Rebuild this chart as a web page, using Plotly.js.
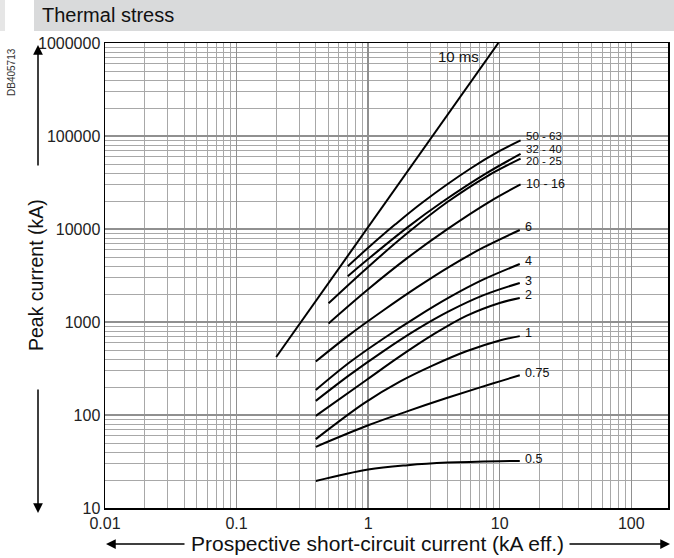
<!DOCTYPE html>
<html>
<head>
<meta charset="utf-8">
<script src="https://cdn.plot.ly/plotly-3.0.1.min.js"></script>
<style>
  html, body { margin: 0; padding: 0; background: #ffffff; }
  #chart { width: 674px; height: 558px; }
</style>
</head>
<body>
<div id="chart"></div>
<script>
// ---------- data ----------
const xTickVals = [0.01, 0.1, 1, 10, 100];
const xTickText = ['0.01', '0.1', '1', '10', '100'];
const yTickVals = [10, 100, 1000, 10000, 100000, 1000000];
const yTickText = ['10', '100', '1000', '10000', '100000', '1000000'];

const seriesNames = ['10 ms', '50 - 63', '32 - 40', '20 - 25', '10 - 16', '6', '4', '3', '2', '1', '0.75', '0.5'];

const x10ms  = [0.2, 9.76];
const y10ms  = [420, 1000000];
const x50_63 = [0.7, 1, 1.6, 2.6, 6, 10, 14.4];
const y50_63 = [3980, 6280, 11150, 19400, 44700, 69000, 89700];
const x32_40 = [0.7, 1, 2, 3.7, 8, 14.4];
const y32_40 = [3100, 4750, 10470, 19730, 40100, 64100];
const x20_25 = [0.5, 1, 2, 4, 8, 14.4];
const y20_25 = [1590, 3910, 9100, 19500, 36900, 57000];
const x10_16 = [0.5, 1, 2, 4, 8.4, 14.4];
const y10_16 = [966, 2250, 4920, 9980, 19740, 30100];
const x6     = [0.4, 0.724, 1.3, 2.33, 4.16, 7.46, 14.2];
const y6     = [376, 731, 1328, 2339, 3943, 6290, 9750];
const x4     = [0.4, 0.724, 1.3, 2.33, 4.16, 7.46, 14.2];
const y4     = [186, 369, 661, 1130, 1849, 2850, 4200];
const x3     = [0.4, 0.724, 1.3, 2.33, 4.16, 7.46, 14.2];
const y3     = [142, 270, 484, 828, 1316, 1933, 2630];
const x2     = [0.4, 0.97, 1.74, 3.11, 5.57, 9.98, 14.2];
const y2     = [98, 238, 427, 731, 1164, 1603, 1816];
const x1     = [0.4, 0.94, 1.74, 3.11, 5.57, 9.98, 14.2];
const y1     = [55, 135, 228, 341, 484, 633, 705];
const x075   = [0.4, 1, 2, 4, 7, 10, 14.2];
const y075   = [45.5, 77.5, 110, 153, 197, 230, 268];
const x05    = [0.4, 1, 2, 4, 10, 14.2];
const y05    = [19.5, 25.9, 28.9, 30.8, 31.9, 32];

// ---------- build ----------
const xsAll = [x10ms, x50_63, x32_40, x20_25, x10_16, x6, x4, x3, x2, x1, x075, x05];
const ysAll = [y10ms, y50_63, y32_40, y20_25, y10_16, y6, y4, y3, y2, y1, y075, y05];

const FONT = 'Liberation Sans, Arial, Helvetica, sans-serif';

const traces = seriesNames.map((n, i) => ({
  type: 'scatter', mode: 'lines', name: n,
  x: xsAll[i], y: ysAll[i],
  line: { color: '#000000', width: 2, shape: i === 0 ? 'linear' : 'spline', smoothing: 1 },
  hoverinfo: 'skip'
}));

// plot-area pixel geometry
const L = 105, R = 668, T = 43, B = 508;
const PX = p => (p - L) / (R - L);
const PY = p => (B - p) / (B - T);

// label offsets (pixels) and sizes
const labelYShift = [0, 4, 5, -2, 0, 3, 3, 2, 3, 3, 2, 2];
const labelSize   = [15, 11.5, 11.5, 11.5, 12.5, 12.5, 12.5, 12.5, 12.5, 12.5, 12.5, 12.5];

const annotations = [];
seriesNames.forEach((n, i) => {
  const xs = xsAll[i], ys = ysAll[i];
  const lx = Math.log10(xs[xs.length - 1]), ly = Math.log10(ys[ys.length - 1]);
  if (i === 0) {
    annotations.push({ xref: 'x', yref: 'y', x: lx, y: ly, text: n, showarrow: false,
      xanchor: 'right', yanchor: 'middle', xshift: -17, yshift: -13,
      font: { family: FONT, size: labelSize[i], color: '#111' } });
  } else {
    annotations.push({ xref: 'x', yref: 'y', x: lx, y: ly, text: n, showarrow: false,
      xanchor: 'left', yanchor: 'middle', xshift: 3, yshift: labelYShift[i],
      font: { family: FONT, size: labelSize[i], color: '#111' } });
  }
});

// axis titles and arrows
annotations.push(
  { xref: 'paper', yref: 'paper', x: PX(36), y: PY(275), text: 'Peak current (kA)', textangle: -90,
    showarrow: false, xanchor: 'center', yanchor: 'middle', font: { family: FONT, size: 19.5, color: '#111' } },
  { xref: 'paper', yref: 'paper', x: PX(38), y: PY(45), text: '', showarrow: true, ax: 0, ay: 122,
    arrowhead: 2, arrowsize: 1.3, arrowwidth: 1.5, arrowcolor: '#000', standoff: 0 },
  { xref: 'paper', yref: 'paper', x: PX(38), y: PY(513), text: '', showarrow: true, ax: 0, ay: -125,
    arrowhead: 2, arrowsize: 1.3, arrowwidth: 1.5, arrowcolor: '#000', standoff: 0 },
  { xref: 'paper', yref: 'paper', x: PX(377), y: PY(543), text: 'Prospective short-circuit current (kA eff.)',
    showarrow: false, xanchor: 'center', yanchor: 'middle', font: { family: FONT, size: 21, color: '#111' } },
  { xref: 'paper', yref: 'paper', x: PX(106), y: PY(544), text: '', showarrow: true, ax: 80, ay: 0,
    arrowhead: 2, arrowsize: 1.3, arrowwidth: 1.5, arrowcolor: '#000', standoff: 0 },
  { xref: 'paper', yref: 'paper', x: PX(670), y: PY(544), text: '', showarrow: true, ax: -102, ay: 0,
    arrowhead: 2, arrowsize: 1.3, arrowwidth: 1.5, arrowcolor: '#000', standoff: 0 },
  { xref: 'paper', yref: 'paper', x: PX(11), y: PY(72), text: 'DB405713', textangle: -90,
    showarrow: false, xanchor: 'center', yanchor: 'middle', font: { family: FONT, size: 10, color: '#333' } }
);

const shapes = [
  { type: 'rect', xref: 'paper', yref: 'paper', x0: PX(34), x1: PX(674), y0: PY(31), y1: PY(0),
    fillcolor: '#d9dadb', line: { width: 0 }, layer: 'below' },
  { type: 'rect', xref: 'paper', yref: 'paper', x0: PX(0), x1: PX(5), y0: PY(31), y1: PY(0),
    fillcolor: '#e6e6e6', line: { width: 0 }, layer: 'below' }
];

const axisCommon = {
  type: 'log', showgrid: true, gridcolor: '#909090', gridwidth: 1.4,
  showline: true, mirror: true, linecolor: '#000', linewidth: 1.5,
  ticks: '', zeroline: false, automargin: false,
  tickfont: { family: FONT, size: 16, color: '#222' },
  minor: { tickmode: 'linear', dtick: 'D1', showgrid: true, gridcolor: '#a8a8a8', gridwidth: 1, ticks: '' }
};

const layout = {
  width: 674, height: 558,
  margin: { l: L, r: 674 - R, t: T, b: 558 - B, pad: 0 },
  paper_bgcolor: '#ffffff', plot_bgcolor: '#ffffff',
  showlegend: false,
  title: { text: 'Thermal stress', xref: 'container', yref: 'container', x: 42 / 674, y: 1 - 15 / 558,
    xanchor: 'left', yanchor: 'middle', font: { family: FONT, size: 20, color: '#111' } },
  xaxis: Object.assign({}, axisCommon, {
    range: [-2, Math.log10(190)], tickmode: 'array', tickvals: xTickVals, ticktext: xTickText
  }),
  yaxis: Object.assign({}, axisCommon, {
    range: [1, 6], tickmode: 'array', tickvals: yTickVals, ticktext: yTickText
  }),
  annotations: annotations,
  shapes: shapes
};

Plotly.newPlot('chart', traces, layout, { staticPlot: true, displayModeBar: false });
</script>
</body>
</html>
